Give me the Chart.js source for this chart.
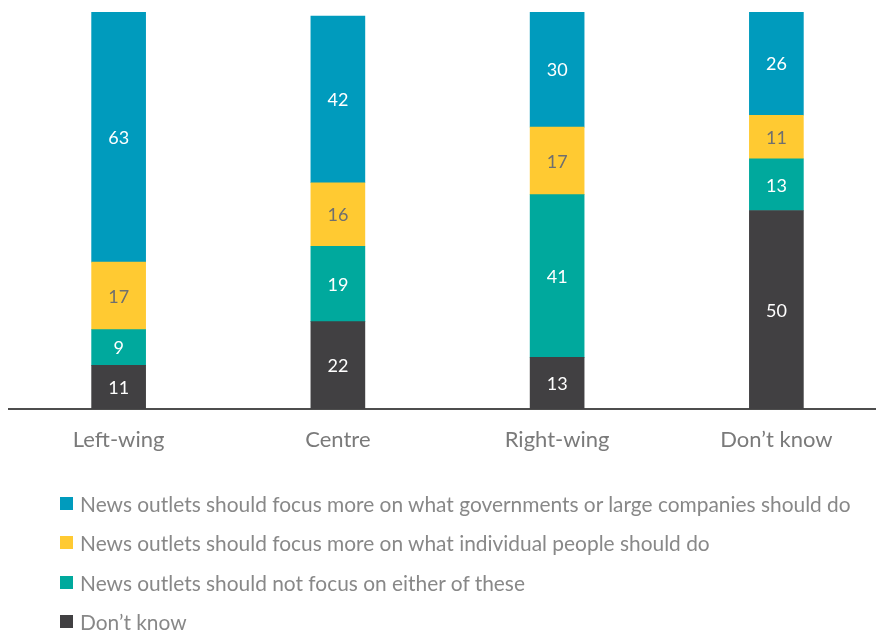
<!DOCTYPE html>
<html>
<head>
<meta charset="utf-8">
<script src="https://cdn.jsdelivr.net/npm/chart.js@4"></script>
<style>
  html, body { margin: 0; padding: 0; background: #ffffff; overflow: hidden; width: 876px; height: 631px; }
  #wrap { position: relative; width: 886px; height: 489px; }
  #chart { display: block; }
  #legend { position: absolute; left: 60px; top: 484px; font-family: Lato, "Open Sans", sans-serif; font-size: 20.9px; color: #888888; }
  .item { height: 39.3px; display: flex; align-items: center; white-space: nowrap; }
  .box { width: 13px; height: 13px; margin-right: 7px; flex: none; }
</style>
</head>
<body>
<div id="wrap"><canvas id="chart" width="886" height="489"></canvas></div>
<div id="legend"></div>
<script>
// Political leaning groups along the x axis
const categories = ["Left-wing", "Centre", "Right-wing", "Don\u2019t know"];

// Shares (%) per group, stacked bottom to top
const dontKnow    = [11, 22, 13, 50];
const neither     = [9, 19, 41, 13];
const individuals = [17, 16, 17, 11];
const governments = [63, 42, 30, 26];

const seriesNames = [
  "Don\u2019t know",
  "News outlets should not focus on either of these",
  "News outlets should focus more on what individual people should do",
  "News outlets should focus more on what governments or large companies should do"
];
const seriesColors = ["#414042", "#00a99d", "#ffca32", "#009bbd"];
const labelColors  = ["#ffffff", "#ffffff", "#6f6f6f", "#ffffff"];

const seriesValues = [dontKnow, neither, individuals, governments];

// Value labels centred in each bar segment
const segmentLabels = {
  id: "segmentLabels",
  afterDatasetsDraw(chart) {
    const ctx = chart.ctx;
    ctx.save();
    ctx.font = "18px Lato, 'Open Sans', sans-serif";
    ctx.textAlign = "center";
    ctx.textBaseline = "middle";
    chart.data.datasets.forEach((ds, di) => {
      const meta = chart.getDatasetMeta(di);
      meta.data.forEach((bar, i) => {
        const v = ds.data[i];
        const top = Math.max(bar.y, chart.chartArea.top);
        const cy = (top + bar.base) / 2;
        ctx.fillStyle = labelColors[di];
        ctx.fillText(String(v), bar.x, cy + 1);
      });
    });
    ctx.restore();
  }
};

new Chart(document.getElementById("chart"), {
  type: "bar",
  data: {
    labels: categories,
    datasets: seriesValues.map((vals, i) => ({
      label: seriesNames[i],
      data: vals,
      backgroundColor: seriesColors[i],
      borderWidth: 0,
      barThickness: 54
    }))
  },
  options: {
    responsive: false,
    animation: false,
    devicePixelRatio: 1,
    layout: { padding: { top: 12, left: 9, right: 0, bottom: 17.6 } },
    plugins: { legend: { display: false }, tooltip: { enabled: false } },
    scales: {
      x: {
        stacked: true,
        grid: { display: false, drawTicks: false },
        border: { display: true, color: "#4d4d4d", width: 2 },
        ticks: {
          color: "#7a7a7a",
          padding: 18,
          maxRotation: 0,
          font: { family: "Lato, 'Open Sans', sans-serif", size: 22 }
        }
      },
      y: {
        stacked: true,
        display: false,
        min: 0,
        max: 100
      }
    }
  },
  plugins: [segmentLabels]
});

// Legend listed top to bottom, reverse of stacking order
const legend = document.getElementById("legend");
for (let i = seriesNames.length - 1; i >= 0; i--) {
  const row = document.createElement("div");
  row.className = "item";
  const box = document.createElement("span");
  box.className = "box";
  box.style.background = seriesColors[i];
  const txt = document.createElement("span");
  txt.textContent = seriesNames[i];
  row.appendChild(box);
  row.appendChild(txt);
  legend.appendChild(row);
}
</script>
</body>
</html>
